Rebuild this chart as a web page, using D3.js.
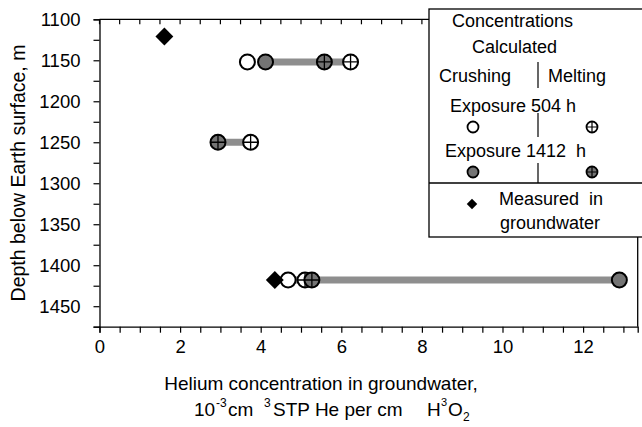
<html>
<head>
<style>
  body { margin: 0; background: #fff; }
  text { font-family: "Liberation Sans", Arial, sans-serif; fill: #000; white-space: pre; }
</style>
</head>
<body>
<svg id="chart" width="642" height="427"></svg>
<script src="https://cdn.jsdelivr.net/npm/d3@7"></script>
<script>
// depth rows with calculated concentrations (10^-3 cm3 STP He per cm3 H2O)
const depths = [1152, 1250, 1418]
const crushing504 = [3.67, null, 4.68]
const melting504 = [6.23, 3.75, 5.1]
const crushing1412 = [4.12, null, 12.9]
const melting1412 = [5.58, 2.94, 5.27]
const rangeFrom = [4.12, 2.94, 4.75]
const rangeTo = [6.23, 3.75, 12.9]

// measured in groundwater
const measuredDepth = [1121, 1418]
const measuredHe = [1.61, 4.35]

const xTicks = d3.range(0, 13.01, 0.5)
const yTicks = d3.range(1100, 1476, 25)

let svg = d3.select("#chart")

let x = d3.scaleLinear().domain([0, 13.355]).range([99.5, 637.7])
let y = d3.scaleLinear().domain([1100, 1475]).range([19.3, 326.7])

const grey = "#747474"
const band = "#8e8e8e"

// frame
svg.append("line").attr("x1", x(0)).attr("x2", x(13.355)).attr("y1", y(1100)).attr("y2", y(1100))
  .attr("stroke", "#000").attr("stroke-width", 1.3)
svg.append("line").attr("x1", x(13.355)).attr("x2", x(13.355)).attr("y1", y(1100)).attr("y2", y(1475))
  .attr("stroke", "#000").attr("stroke-width", 1.3)

// top ticks pointing inward
svg.append("g").selectAll("line").data(xTicks).enter().append("line")
  .attr("x1", d => x(d)).attr("x2", d => x(d))
  .attr("y1", y(1100)).attr("y2", y(1100) + 5)
  .attr("stroke", "#000").attr("stroke-width", 1.2)

let xAxis = svg.append("g").attr("transform", `translate(0,${y(1475)})`)
  .call(d3.axisBottom(x).tickValues(xTicks).tickSize(6).tickPadding(7)
    .tickFormat(d => d % 2 === 0 ? d : ""))
let yAxis = svg.append("g").attr("transform", `translate(${x(0)},0)`)
  .call(d3.axisLeft(y).tickValues(yTicks).tickSize(6).tickPadding(13)
    .tickFormat(d => d % 50 === 0 && d < 1475 ? d : ""))

for (let ax of [xAxis, yAxis]) {
  ax.select(".domain").attr("stroke-width", 1.3)
  ax.selectAll(".tick line").attr("stroke-width", 1.2)
  ax.selectAll("text").style("font-size", "18.5px").attr("fill", "#000")
    .style("font-family", '"Liberation Sans", Arial, sans-serif')
}

// ranges
svg.append("g").selectAll("line").data(depths).enter().append("line")
  .attr("x1", (d, i) => x(rangeFrom[i])).attr("x2", (d, i) => x(rangeTo[i]))
  .attr("y1", d => y(d)).attr("y2", d => y(d))
  .attr("stroke", band).attr("stroke-width", 7)

function crossPath(cx, cy, r) {
  return `M${cx - r},${cy}H${cx + r}M${cx},${cy - r}V${cy + r}`
}

function drawSeries(values, fill, crossed, r) {
  let g = svg.append("g")
  let pts = depths.map((d, i) => ({ d: d, v: values[i] })).filter(p => p.v !== null)
  g.selectAll("circle").data(pts).enter().append("circle")
    .attr("cx", p => x(p.v)).attr("cy", p => y(p.d)).attr("r", r)
    .attr("fill", fill).attr("stroke", "#000").attr("stroke-width", 2)
  if (crossed) {
    g.selectAll("path").data(pts).enter().append("path")
      .attr("d", p => crossPath(x(p.v), y(p.d), r))
      .attr("stroke", "#000").attr("stroke-width", 1.3).attr("fill", "none")
  }
}

drawSeries(crushing504, "#fff", false, 7.5)
drawSeries(melting504, "#fff", true, 7.5)
drawSeries(crushing1412, grey, false, 7.5)
drawSeries(melting1412, grey, true, 7.5)

svg.append("g").selectAll("path").data(measuredDepth).enter().append("path")
  .attr("transform", (d, i) => `translate(${x(measuredHe[i])},${y(d)}) rotate(45)`)
  .attr("d", d3.symbol().type(d3.symbolSquare).size(160))
  .attr("fill", "#000")

// axis titles
svg.append("text").attr("transform", "translate(25,173) rotate(-90)")
  .attr("text-anchor", "middle").style("font-size", "19.5px")
  .text("Depth below Earth surface, m")

svg.append("text").attr("x", 321).attr("y", 390).attr("text-anchor", "middle")
  .style("font-size", "19px").text("Helium concentration in groundwater,")

let t2 = svg.append("g").style("font-size", "19px")
t2.append("text").attr("x", 194).attr("y", 416).text("10")
t2.append("text").attr("x", 216).attr("y", 407).style("font-size", "12px").text("-3")
t2.append("text").attr("x", 228).attr("y", 416).text("cm")
t2.append("text").attr("x", 264).attr("y", 407).style("font-size", "12px").text("3")
t2.append("text").attr("x", 273).attr("y", 416).text("STP He per cm")
t2.append("text").attr("x", 427).attr("y", 416).text("H")
t2.append("text").attr("x", 441).attr("y", 406).style("font-size", "11px").text("3")
t2.append("text").attr("x", 448).attr("y", 416).text("O")
t2.append("text").attr("x", 463).attr("y", 421).style("font-size", "12px").text("2")

// legend
let lg = svg.append("g")
lg.append("rect").attr("x", 429).attr("y", 9).attr("width", 230).attr("height", 228)
  .attr("fill", "#fff").attr("stroke", "#000").attr("stroke-width", 1.3)
lg.append("line").attr("x1", 429).attr("x2", 660).attr("y1", 183).attr("y2", 183)
  .attr("stroke", "#000").attr("stroke-width", 1.3)
for (let seg of [[62, 88], [113, 137], [163, 183]]) {
  lg.append("line").attr("x1", 538).attr("x2", 538).attr("y1", seg[0]).attr("y2", seg[1])
    .attr("stroke", "#000").attr("stroke-width", 1.2)
}
let legendText = [
  ["Concentrations", 452, 27],
  ["Calculated", 472, 53],
  ["Crushing", 439, 82],
  ["Melting", 548, 82],
  ["Exposure 504 h", 450, 112],
  ["Exposure 1412  h", 445, 157],
  ["Measured  in", 499, 205],
  ["groundwater", 500, 229]
]
lg.selectAll("text").data(legendText).enter().append("text")
  .attr("x", d => d[1]).attr("y", d => d[2]).style("font-size", "18px").text(d => d[0])

let legendMarks = [
  [473, 127, "#fff", false],
  [592, 127, "#fff", true],
  [473, 172, grey, false],
  [592, 172, grey, true]
]
for (let m of legendMarks) {
  lg.append("circle").attr("cx", m[0]).attr("cy", m[1]).attr("r", 5.5)
    .attr("fill", m[2]).attr("stroke", "#000").attr("stroke-width", 1.8)
  if (m[3]) lg.append("path").attr("d", crossPath(m[0], m[1], 5.5))
    .attr("stroke", "#000").attr("stroke-width", 1.2)
}
lg.append("path").attr("transform", "translate(472,204) rotate(45)")
  .attr("d", d3.symbol().type(d3.symbolSquare).size(55)).attr("fill", "#000")
</script>
</body>
</html>
